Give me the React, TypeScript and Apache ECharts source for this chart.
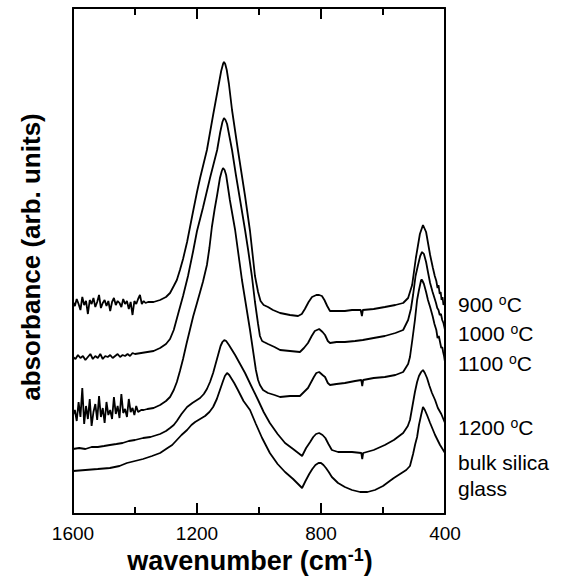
import React, { useEffect, useRef } from 'react';
import * as echarts from 'echarts';

const FONT = '"Liberation Sans", Arial, Helvetica, sans-serif';

const xMin = 400;
const xMax = 1600;
const xMajorStep = 400;
const xMajorTicks = [1600, 1200, 800, 400];
const xMinorTicks = [1400, 1000, 600];
const yMin = 0;
const yMax = 506;

const seriesNames = ['900 °C', '1000 °C', '1100 °C', '1200 °C', 'bulk silica glass'];

// [wavenumber (cm-1), absorbance (arb. units, vertically offset)]
const spectrum900: [number, number][] = [
  [1600,212],[1594,208],[1588,215],[1582,210],[1576,204],[1570,217],[1564,209],[1558,213],[1552,200],[1546,214],
  [1540,210],[1534,216],[1528,207],[1522,212],[1516,219],[1510,206],[1504,211],[1498,214],[1492,208],[1486,213],
  [1480,203],[1474,212],[1468,216],[1462,209],[1456,213],[1450,211],[1444,207],[1438,215],[1432,210],[1426,213],
  [1420,205],[1414,212],[1408,199],[1402,213],[1396,210],[1390,215],[1384,219],[1378,210],[1372,213],[1366,211],
  [1358,212],[1340,212],[1319,214],[1300,217],[1287,221],[1275,228],[1265,234],[1255,244],[1245,255],[1232,272],
  [1213,302],[1200,322],[1190,336],[1168,364],[1148,399],[1132,426],[1122,443],[1116,450],[1113,452],[1109,450],
  [1104,444],[1097,430],[1087,404],[1068,364],[1045,318],[1029,283],[1013,238],[1003,222],[995,213],[985,209],
  [971,207],[955,204],[932,201],[900,199],[874,198],[862,200],[852,205],[840,212],[829,217],[815,219],
  [806,219],[797,218],[789,214],[780,208],[771,203],[750,203],[723,203],[700,204],[672,204],[668,198],
  [665,204],[630,205],[594,207],[560,209],[535,211],[519,216],[506,229],[494,256],[481,280],[471,289],
  [461,282],[448,259],[439,246],[433,238],[428,233],[424,226],[421,229],[417,220],[414,222],[411,214],
  [408,217],[405,209],[402,212],[400,207],
];

const spectrum1000: [number, number][] = [
  [1600,157],[1592,155],[1584,159],[1576,156],[1568,158],[1560,154],[1552,157],[1544,160],[1536,155],[1528,158],
  [1520,156],[1512,160],[1504,155],[1496,158],[1488,157],[1480,159],[1472,156],[1464,158],[1456,160],[1448,157],
  [1440,159],[1432,158],[1424,160],[1416,158],[1408,161],[1400,160],[1380,161],[1360,162],[1340,163],[1319,166],
  [1300,170],[1287,175],[1275,184],[1261,200],[1245,218],[1229,238],[1213,262],[1200,283],[1181,306],[1158,336],
  [1135,364],[1125,382],[1118,392],[1113,396],[1108,394],[1103,390],[1087,364],[1075,340],[1061,314],[1045,284],
  [1035,264],[1023,238],[1013,212],[1003,190],[997,178],[990,173],[984,172],[971,170],[950,167],[932,164],
  [900,163],[868,162],[855,166],[842,171],[830,178],[820,183],[806,185],[795,182],[787,179],[778,173],
  [771,171],[750,172],[723,172],[690,173],[665,174],[630,176],[594,178],[560,181],[535,184],[519,194],
  [510,205],[503,219],[495,238],[487,249],[480,258],[474,262],[468,260],[461,252],[455,242],[448,231],
  [440,222],[434,216],[429,211],[425,206],[421,204],[417,199],[413,200],[409,194],[405,191],[402,187],[400,184],
];

const spectrum1100: [number, number][] = [
  [1600,99],[1594,104],[1588,93],[1582,112],[1576,97],[1570,126],[1564,90],[1558,108],[1552,95],[1546,115],
  [1540,88],[1534,102],[1528,110],[1522,94],[1516,118],[1510,97],[1504,106],[1498,91],[1492,112],[1486,99],
  [1480,104],[1474,95],[1468,117],[1462,100],[1456,108],[1450,96],[1444,120],[1438,101],[1432,105],[1426,97],
  [1420,115],[1414,102],[1408,106],[1402,99],[1396,108],[1390,102],[1380,104],[1372,104],[1360,105],[1340,106],
  [1319,109],[1300,113],[1287,117],[1275,124],[1265,132],[1255,143],[1245,155],[1234,170],[1223,184],[1212,198],
  [1200,211],[1190,222],[1181,232],[1168,249],[1160,266],[1152,287],[1143,305],[1135,319],[1126,336],[1120,343],
  [1116,346],[1111,344],[1106,339],[1094,314],[1077,284],[1055,234],[1029,184],[1010,144],[1003,134],[997,129],
  [987,124],[971,121],[950,119],[932,117],[900,118],[868,118],[855,122],[842,126],[823,137],[815,141],
  [806,142],[795,139],[787,137],[778,131],[771,129],[750,130],[723,131],[690,133],[670,134],[667,128],
  [664,134],[630,136],[594,137],[560,139],[535,142],[519,150],[513,157],[505,175],[497,194],[490,214],
  [484,224],[477,234],[474,234],[468,230],[461,222],[455,214],[448,207],[440,198],[434,190],[428,184],
  [424,176],[420,178],[416,172],[412,166],[409,167],[406,162],[403,158],[400,152],
];

const spectrum1200: [number, number][] = [
  [1600,65],[1580,66],[1560,65],[1540,67],[1520,67],[1500,68],[1481,69],[1460,70],[1440,71],[1420,73],
  [1400,74],[1374,76],[1350,77],[1319,80],[1300,83],[1287,86],[1275,89],[1265,93],[1250,100],[1232,107],
  [1215,111],[1200,114],[1190,116],[1178,120],[1168,125],[1158,132],[1148,141],[1140,150],[1132,159],[1124,168],
  [1118,172],[1112,174],[1106,173],[1097,169],[1077,159],[1061,150],[1045,141],[1025,128],[1003,114],[985,102],
  [965,91],[940,80],[916,71],[890,65],[861,58],[848,66],[835,72],[825,77],[816,80],[806,81],
  [795,79],[786,76],[776,70],[765,64],[745,62],[723,62],[700,62],[670,61],[667,55],[664,61],
  [630,64],[594,69],[565,74],[535,81],[520,88],[513,94],[505,108],[497,122],[490,132],[484,138],
  [477,142],[471,144],[465,141],[458,136],[450,128],[442,121],[432,114],[423,106],[412,100],[400,91],
];

const spectrumBulk: [number, number][] = [
  [1600,43],[1560,44],[1520,45],[1481,46],[1450,48],[1426,51],[1400,53],[1374,55],[1345,58],[1319,61],
  [1295,66],[1280,69],[1265,74],[1250,79],[1232,84],[1218,89],[1206,92],[1190,95],[1174,98],[1160,102],
  [1148,107],[1136,115],[1126,124],[1116,133],[1110,138],[1103,141],[1096,139],[1090,136],[1080,131],[1068,124],
  [1050,113],[1029,104],[1010,90],[990,76],[965,61],[940,50],[916,42],[890,35],[861,26],[850,33],
  [838,40],[828,45],[818,49],[808,51],[800,51],[792,49],[784,46],[775,42],[765,37],[745,31],[723,27],
  [700,24],[674,22],[650,22],[626,24],[600,28],[587,31],[565,36],[545,40],[525,44],[513,48],
  [503,60],[496,70],[490,77],[484,89],[477,99],[471,107],[465,104],[458,99],[448,91],[432,79],
  [416,69],[400,61],
];

const spectra = [spectrum900, spectrum1000, spectrum1100, spectrum1200, spectrumBulk];

export default function App() {
  const ref = useRef<HTMLDivElement>(null);
  useEffect(() => {
    const chart = echarts.init(ref.current!, null, { renderer: 'svg' });
    const frame = () => ({ show: true, onZero: false, lineStyle: { color: '#000', width: 2 } });
    const yAx = (position: string) => ({
      type: 'value', min: yMin, max: yMax, gridIndex: 0, position,
      axisLine: frame(), axisTick: { show: false }, axisLabel: { show: false }, splitLine: { show: false },
    });
    const xFrame = (position: string, labels: boolean) => ({
      type: 'value', min: xMin, max: xMax, inverse: true, gridIndex: 0, position, interval: xMajorStep,
      splitLine: { show: false },
      axisLine: frame(),
      axisTick: { show: false },
      axisLabel: labels
        ? { show: true, color: '#000', fontSize: 19, fontFamily: FONT, margin: 10, formatter: (v: number) => String(v) }
        : { show: false },
    });
    const labelText = (text: string, y: number) => ({
      type: 'text', x: 458, y, silent: true, z: 100,
      style: {
        text, fill: '#000', font: `21px ${FONT}`,
        textVerticalAlign: 'middle', verticalAlign: 'middle', textAlign: 'left', align: 'left',
        rich: {
          n: { fontSize: 21, fontFamily: FONT, lineHeight: 22 },
          s: { fontSize: 14, fontFamily: FONT, verticalAlign: 'top', lineHeight: 22 },
        },
      },
    });
    const textElements: any[] = [
      labelText('{n|900 }{s|o}{n|C}', 304),
      labelText('{n|1000 }{s|o}{n|C}', 333),
      labelText('{n|1100 }{s|o}{n|C}', 363),
      labelText('{n|1200 }{s|o}{n|C}', 427),
      labelText('{n|bulk silica}', 462),
      labelText('{n|glass}', 488),
      {
        type: 'text', x: 250, y: 561, silent: true, z: 100,
        style: {
          text: '{b|wavenumber (cm}{s|-1}{b|)}', fill: '#000',
          font: `bold 27px ${FONT}`,
          textAlign: 'center', align: 'center', textVerticalAlign: 'middle', verticalAlign: 'middle',
          rich: {
            b: { fontSize: 27, fontWeight: 'bold', fontFamily: FONT, lineHeight: 30 },
            s: { fontSize: 18, fontWeight: 'bold', fontFamily: FONT, verticalAlign: 'top', lineHeight: 30 },
          },
        },
      },
      {
        type: 'text', x: 31, y: 257, rotation: Math.PI / 2, silent: true, z: 100,
        style: {
          text: 'absorbance (arb. units)', fill: '#000', font: `bold 26px ${FONT}`,
          textAlign: 'center', align: 'center', textVerticalAlign: 'middle', verticalAlign: 'middle',
        },
      },
    ];
    chart.setOption({
      animation: false,
      backgroundColor: '#fff',
      grid: { left: 73, right: 122, top: 8, bottom: 72 },
      xAxis: [xFrame('bottom', true), xFrame('top', false)],
      yAxis: [yAx('left'), yAx('right')],
      series: spectra.map((d, i) => ({
        name: seriesNames[i], type: 'line', data: d, xAxisIndex: 0, yAxisIndex: 0,
        showSymbol: false, symbol: 'none', silent: true,
        lineStyle: { color: '#000', width: 1.8 },
      })),
      graphic: textElements,
    });

    // inward tick marks on the bottom and top frame, positioned through the chart's own x scale
    const majorLen = 11;
    const minorLen = 7;
    const tickElements: any[] = [];
    const addTicks = (vals: number[], len: number) => {
      vals.forEach((v) => {
        const pb = chart.convertToPixel({ xAxisIndex: 0, yAxisIndex: 0 }, [v, yMin]) as number[];
        const pt = chart.convertToPixel({ xAxisIndex: 0, yAxisIndex: 0 }, [v, yMax]) as number[];
        if (!pb || !pt) return;
        tickElements.push({
          type: 'line', silent: true, z: 100,
          shape: { x1: pb[0], y1: pb[1], x2: pb[0], y2: pb[1] - len },
          style: { stroke: '#000', lineWidth: 2 },
        });
        tickElements.push({
          type: 'line', silent: true, z: 100,
          shape: { x1: pt[0], y1: pt[1], x2: pt[0], y2: pt[1] + len },
          style: { stroke: '#000', lineWidth: 2 },
        });
      });
    };
    addTicks(xMajorTicks, majorLen);
    addTicks(xMinorTicks, minorLen);
    chart.setOption({ graphic: [...textElements, ...tickElements] });

    return () => chart.dispose();
  }, []);
  return (
    <div
      ref={ref}
      style={{ position: 'absolute', left: 0, top: 0, width: 567, height: 586, background: '#fff' }}
    />
  );
}
